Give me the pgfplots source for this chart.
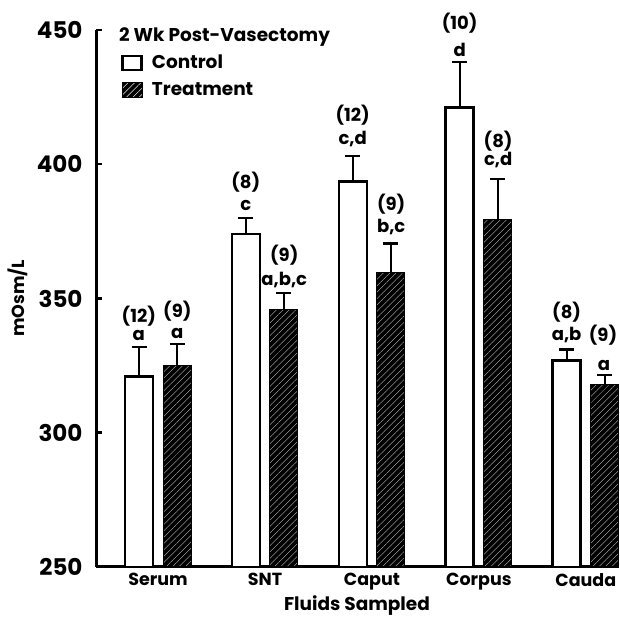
\documentclass[border=0pt]{standalone}
\usepackage{fontspec}
\setmainfont{Poppins}
\usepackage{pgfplots}
\pgfplotsset{compat=1.18}
\usetikzlibrary{patterns.meta}
\newcommand\lab{\bfseries\fontsize{17.5}{20}\selectfont}
\newcommand\leg{\bfseries\fontsize{18.5}{22}\selectfont}
\newcommand\ann{\bfseries\fontsize{18}{21}\selectfont}
\begin{document}
\begin{tikzpicture}
\useasboundingbox (0,0) rectangle (619pt,631pt);
\clip (0,0) rectangle (619pt,631pt);
\begin{axis}[
 at={(96pt,64pt)}, anchor=south west,
 scale only axis, width=523pt, height=537pt,
 xmin=-0.58, xmax=4.31, ymin=250, ymax=450,
 axis x line=bottom, axis y line=left,
 axis line style={line width=3pt, -},
 ybar=10pt, bar width=28pt,
 clip mode=individual,
 xtick={0,1,2,3,4}, xticklabels={Serum,SNT,Caput,Corpus,Cauda},
 x tick style={draw=none},
 ytick={250,300,350,400,450},
 y tick style={line width=2.5pt, black},
 tick align=inside, major tick length=6pt,
 /pgf/number format/assume math mode=true,
 ticklabel style={font=\bfseries\fontsize{23}{26}\selectfont},
 xticklabel style={font=\lab, yshift=-3pt},
 yticklabel style={xshift=-10pt},
 ylabel={mOsm/L}, xlabel={Fluids Sampled},
 ylabel style={font=\bfseries\fontsize{17.5}{20}\selectfont, at={(axis description cs:-0.149,0.5)}, anchor=center},
 xlabel style={font=\leg, at={(axis description cs:0.499,-0.071)}, anchor=center},
 legend style={at={(axis description cs:0.048,0.957)}, anchor=north west, draw=none, fill=none, font=\leg, row sep=8pt, inner sep=0pt},
 legend cell align=left,
]
\addplot[fill=white, draw=black, line width=2.8pt,
  legend image code/.code={\draw[fill=white,draw=black,line width=2.5pt] (0pt,-7pt) rectangle (19pt,7pt); \path (26pt,0pt);},
  error bars/.cd, y dir=plus, y explicit,
  error bar style={line width=2.5pt, black},
  error mark options={rotate=90, mark size=7.5pt, line width=2.5pt, black}]
 coordinates {(0,321) +- (0,11) (1,374) +- (0,6) (2,393.5) +- (0,9.5) (3,421) +- (0,17) (4,327) +- (0,4)};
\addlegendentry{Control}
\addplot[fill=black, draw=black, line width=1pt,
  postaction={pattern={Lines[angle=45,distance=4.5pt,line width=0.35pt]}, pattern color=gray!45},
  legend image code/.code={\draw[fill=black,draw=black,line width=1pt,postaction={pattern={Lines[angle=45,distance=4.5pt,line width=0.35pt]}, pattern color=gray!45}] (0pt,-7.5pt) rectangle (20pt,7.5pt); \path (26pt,0pt);},
  error bars/.cd, y dir=plus, y explicit,
  error bar style={line width=2.5pt, black},
  error mark options={rotate=90, mark size=7.5pt, line width=2.5pt, black}]
 coordinates {(0,325) +- (0,8) (1,346) +- (0,6) (2,359.5) +- (0,11) (3,379.5) +- (0,15) (4,318) +- (0,3.5)};
\addlegendentry{Treatment}
\node[anchor=west, font=\leg, inner sep=0pt] at (axis description cs:0.044,0.986) {2 Wk Post-Vasectomy};
% annotations
\begin{scope}[every node/.style={anchor=base, font=\ann, inner sep=0pt}]
\node at (axis cs:-0.18,341.2) {(12)};
\node at (axis cs:-0.18,334.2) {a};
\node at (axis cs:0.18,343.1) {(9)};
\node at (axis cs:0.18,335.0) {a};
\node at (axis cs:0.82,390.8) {(8)};
\node at (axis cs:0.82,382.6) {c};
\node at (axis cs:1.18,363.6) {(9)};
\node at (axis cs:1.18,354.7) {a,b,c};
\node at (axis cs:1.82,416.1) {(12)};
\node at (axis cs:1.82,407.2) {c,d};
\node at (axis cs:2.18,382.7) {(9)};
\node at (axis cs:2.18,374.5) {b,c};
\node at (axis cs:2.82,450.0) {(10)};
\node at (axis cs:2.82,440.3) {d};
\node at (axis cs:3.18,406.1) {(8)};
\node at (axis cs:3.18,399.4) {c,d};
\node at (axis cs:3.82,342.4) {(8)};
\node at (axis cs:3.82,334.2) {a,b};
\node at (axis cs:4.16,333.8) {(9)};
\node at (axis cs:4.17,323.0) {a};
\end{scope}
\end{axis}
\end{tikzpicture}
\end{document}
